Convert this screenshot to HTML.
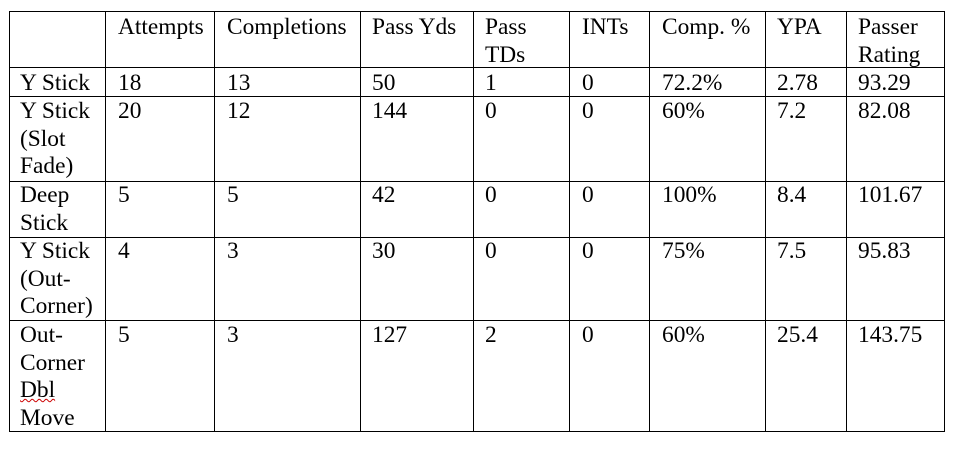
<!DOCTYPE html><html><head><style>
body{margin:0;width:962px;height:450px;background:#fff;position:relative;font-family:"Liberation Serif",serif;font-size:23.4px;line-height:27.5px;color:#000;overflow:hidden}
.h{position:absolute;height:1px;background:#000}
.v{position:absolute;width:1px;background:#000;top:11px;height:421px}
.t{position:absolute;white-space:nowrap}
</style></head><body>
<div class="h" style="left:9px;width:936px;top:11px"></div>
<div class="h" style="left:9px;width:936px;top:67px"></div>
<div class="h" style="left:9px;width:936px;top:96px"></div>
<div class="h" style="left:9px;width:936px;top:181px"></div>
<div class="h" style="left:9px;width:936px;top:237px"></div>
<div class="h" style="left:9px;width:936px;top:320px"></div>
<div class="h" style="left:9px;width:936px;top:431px"></div>
<div class="v" style="left:9px"></div><div class="v" style="left:105px"></div><div class="v" style="left:214px"></div><div class="v" style="left:360px"></div><div class="v" style="left:473px"></div><div class="v" style="left:569px"></div><div class="v" style="left:649px"></div><div class="v" style="left:765px"></div><div class="v" style="left:846px"></div><div class="v" style="left:944px"></div>

<div class="t" style="left:118px;top:14px">Attempts</div>
<div class="t" style="left:227px;top:14px">Completions</div>
<div class="t" style="left:372px;top:14px">Pass Yds</div>
<div class="t" style="left:485px;top:14px">Pass<br>TDs</div>
<div class="t" style="left:582px;top:14px">INTs</div>
<div class="t" style="left:662px;top:14px">Comp. %</div>
<div class="t" style="left:777px;top:14px">YPA</div>
<div class="t" style="left:858px;top:14px">Passer<br>Rating</div>

<div class="t" style="left:20px;top:70px">Y Stick</div>
<div class="t" style="left:118px;top:70px">18</div><div class="t" style="left:227px;top:70px">13</div><div class="t" style="left:372px;top:70px">50</div><div class="t" style="left:485px;top:70px">1</div><div class="t" style="left:582px;top:70px">0</div><div class="t" style="left:662px;top:70px">72.2%</div><div class="t" style="left:777px;top:70px">2.78</div><div class="t" style="left:858px;top:70px">93.29</div>

<div class="t" style="left:20px;top:98px">Y Stick<br>(Slot<br>Fade)</div>
<div class="t" style="left:118px;top:98px">20</div><div class="t" style="left:227px;top:98px">12</div><div class="t" style="left:372px;top:98px">144</div><div class="t" style="left:485px;top:98px">0</div><div class="t" style="left:582px;top:98px">0</div><div class="t" style="left:662px;top:98px">60%</div><div class="t" style="left:777px;top:98px">7.2</div><div class="t" style="left:858px;top:98px">82.08</div>

<div class="t" style="left:20px;top:182px">Deep<br>Stick</div>
<div class="t" style="left:118px;top:182px">5</div><div class="t" style="left:227px;top:182px">5</div><div class="t" style="left:372px;top:182px">42</div><div class="t" style="left:485px;top:182px">0</div><div class="t" style="left:582px;top:182px">0</div><div class="t" style="left:662px;top:182px">100%</div><div class="t" style="left:777px;top:182px">8.4</div><div class="t" style="left:858px;top:182px">101.67</div>

<div class="t" style="left:20px;top:238px">Y Stick<br>(Out-<br>Corner)</div>
<div class="t" style="left:118px;top:238px">4</div><div class="t" style="left:227px;top:238px">3</div><div class="t" style="left:372px;top:238px">30</div><div class="t" style="left:485px;top:238px">0</div><div class="t" style="left:582px;top:238px">0</div><div class="t" style="left:662px;top:238px">75%</div><div class="t" style="left:777px;top:238px">7.5</div><div class="t" style="left:858px;top:238px">95.83</div>

<div class="t" style="left:20px;top:322px">Out-<br>Corner<br><span style="text-decoration:underline wavy #c00;text-decoration-thickness:1px">Dbl</span><br>Move</div>
<div class="t" style="left:118px;top:322px">5</div><div class="t" style="left:227px;top:322px">3</div><div class="t" style="left:372px;top:322px">127</div><div class="t" style="left:485px;top:322px">2</div><div class="t" style="left:582px;top:322px">0</div><div class="t" style="left:662px;top:322px">60%</div><div class="t" style="left:777px;top:322px">25.4</div><div class="t" style="left:858px;top:322px">143.75</div>
</body></html>
